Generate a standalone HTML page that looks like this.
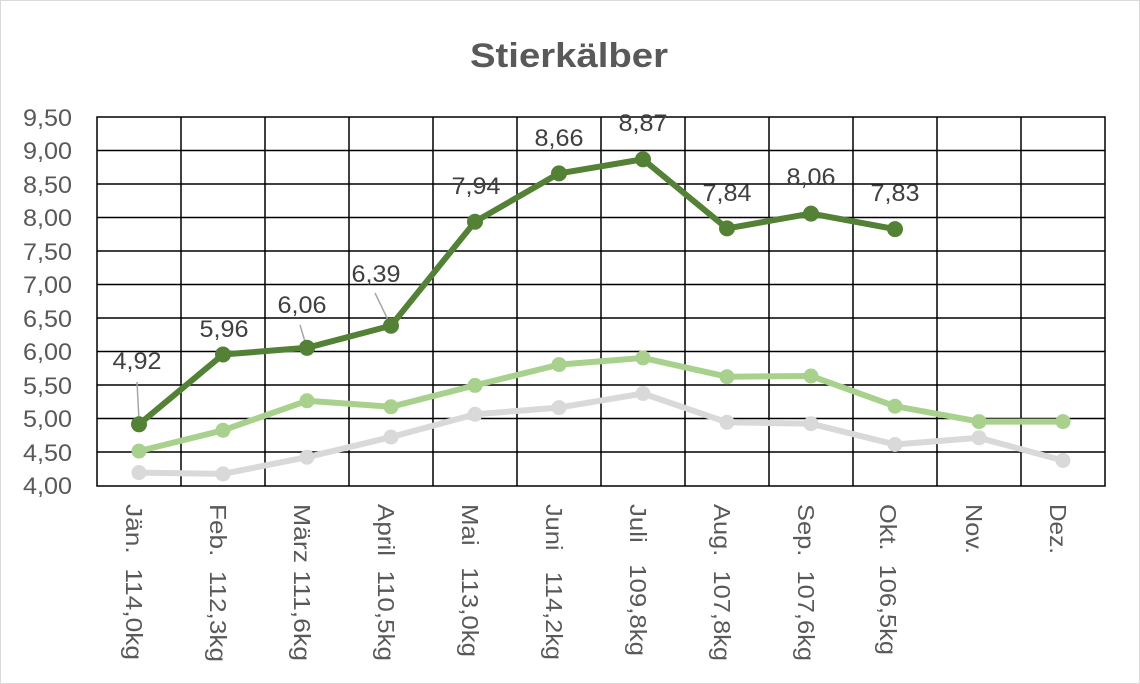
<!DOCTYPE html>
<html><head><meta charset="utf-8"><style>
html,body{margin:0;padding:0;background:#fff;}
svg{display:block;font-family:"Liberation Sans",sans-serif;}
</style></head><body>
<svg width="1140" height="684" viewBox="0 0 1140 684">
<rect x="0.5" y="0.5" width="1139" height="683" fill="#fff" stroke="#d9d9d9"/>
<text x="569" y="67" text-anchor="middle" font-size="34" font-weight="bold" fill="#595959" textLength="198" lengthAdjust="spacingAndGlyphs">Stierkälber</text>
<g stroke="#000" stroke-width="1.5" fill="none">
<rect x="97" y="117" width="1008" height="369"/>
<path d="M97 150.5H1105M97 184H1105M97 217.5H1105M97 251H1105M97 284.5H1105M97 318H1105M97 351.5H1105M97 385H1105M97 418.5H1105M97 452H1105"/>
<path d="M181 117V486M265 117V486M349 117V486M433 117V486M517 117V486M601 117V486M685 117V486M769 117V486M853 117V486M937 117V486M1021 117V486"/>
</g>
<g font-size="24" fill="#595959" text-anchor="end">
<text x="72" y="126" textLength="49" lengthAdjust="spacingAndGlyphs">9,50</text>
<text x="72" y="159" textLength="49" lengthAdjust="spacingAndGlyphs">9,00</text>
<text x="72" y="193" textLength="49" lengthAdjust="spacingAndGlyphs">8,50</text>
<text x="72" y="226" textLength="49" lengthAdjust="spacingAndGlyphs">8,00</text>
<text x="72" y="260" textLength="49" lengthAdjust="spacingAndGlyphs">7,50</text>
<text x="72" y="293" textLength="49" lengthAdjust="spacingAndGlyphs">7,00</text>
<text x="72" y="327" textLength="49" lengthAdjust="spacingAndGlyphs">6,50</text>
<text x="72" y="360" textLength="49" lengthAdjust="spacingAndGlyphs">6,00</text>
<text x="72" y="394" textLength="49" lengthAdjust="spacingAndGlyphs">5,50</text>
<text x="72" y="427" textLength="49" lengthAdjust="spacingAndGlyphs">5,00</text>
<text x="72" y="461" textLength="49" lengthAdjust="spacingAndGlyphs">4,50</text>
<text x="72" y="494" textLength="49" lengthAdjust="spacingAndGlyphs">4,00</text>
</g>
<g font-size="23" fill="#595959">
<text transform="translate(126,504) rotate(90)" textLength="156" lengthAdjust="spacingAndGlyphs" xml:space="preserve">Jän.  114,0kg</text>
<text transform="translate(210,504) rotate(90)" textLength="158" lengthAdjust="spacingAndGlyphs" xml:space="preserve">Feb.  112,3kg</text>
<text transform="translate(294,504) rotate(90)" textLength="157" lengthAdjust="spacingAndGlyphs" xml:space="preserve">März 111,6kg</text>
<text transform="translate(378,504) rotate(90)" textLength="157" lengthAdjust="spacingAndGlyphs" xml:space="preserve">April  110,5kg</text>
<text transform="translate(462,504) rotate(90)" textLength="153" lengthAdjust="spacingAndGlyphs" xml:space="preserve">Mai   113,0kg</text>
<text transform="translate(546,504) rotate(90)" textLength="156" lengthAdjust="spacingAndGlyphs" xml:space="preserve">Juni   114,2kg</text>
<text transform="translate(630,504) rotate(90)" textLength="152" lengthAdjust="spacingAndGlyphs" xml:space="preserve">Juli   109,8kg</text>
<text transform="translate(714,504) rotate(90)" textLength="157" lengthAdjust="spacingAndGlyphs" xml:space="preserve">Aug.  107,8kg</text>
<text transform="translate(798,504) rotate(90)" textLength="157" lengthAdjust="spacingAndGlyphs" xml:space="preserve">Sep.  107,6kg</text>
<text transform="translate(880,504) rotate(90)" textLength="151" lengthAdjust="spacingAndGlyphs" xml:space="preserve">Okt.  106,5kg</text>
<text transform="translate(966,504) rotate(90)" textLength="50" lengthAdjust="spacingAndGlyphs">Nov.</text>
<text transform="translate(1050,504) rotate(90)" textLength="50" lengthAdjust="spacingAndGlyphs">Dez.</text>
</g>
<g fill="#d9d9d9" stroke="#d9d9d9">
<polyline fill="none" stroke-width="6" stroke-linejoin="round" points="139,472.6 223,473.9 307,457.2 391,437.1 475,414.3 559,407.6 643,393.5 727,422.3 811,423.7 895,444.5 979,437.8 1063,460.5"/>
<circle cx="139" cy="472.6" r="7"/><circle cx="223" cy="473.9" r="7"/><circle cx="307" cy="457.2" r="7"/><circle cx="391" cy="437.1" r="7"/><circle cx="475" cy="414.3" r="7"/><circle cx="559" cy="407.6" r="7"/><circle cx="643" cy="393.5" r="7"/><circle cx="727" cy="422.3" r="7"/><circle cx="811" cy="423.7" r="7"/><circle cx="895" cy="444.5" r="7"/><circle cx="979" cy="437.8" r="7"/><circle cx="1063" cy="460.5" r="7"/>
</g>
<g fill="#a9d18e" stroke="#a9d18e">
<polyline fill="none" stroke-width="6" stroke-linejoin="round" points="139,451.1 223,430.3 307,400.8 391,406.8 475,385.4 559,364.6 643,357.9 727,376.7 811,376.0 895,406.2 979,421.6 1063,421.6"/>
<circle cx="139" cy="451.1" r="7"/><circle cx="223" cy="430.3" r="7"/><circle cx="307" cy="400.8" r="7"/><circle cx="391" cy="406.8" r="7"/><circle cx="475" cy="385.4" r="7"/><circle cx="559" cy="364.6" r="7"/><circle cx="643" cy="357.9" r="7"/><circle cx="727" cy="376.7" r="7"/><circle cx="811" cy="376.0" r="7"/><circle cx="895" cy="406.2" r="7"/><circle cx="979" cy="421.6" r="7"/><circle cx="1063" cy="421.6" r="7"/>
</g>
<g stroke="#a6a6a6" stroke-width="1.5">
<line x1="137" y1="382" x2="139" y2="420"/>
<line x1="300" y1="325" x2="306" y2="345"/>
<line x1="375" y1="293" x2="389" y2="322"/>
</g>
<g fill="#538135" stroke="#538135">
<polyline fill="none" stroke-width="6" stroke-linejoin="round" points="139,424.3 223,354.5 307,347.8 391,325.7 475,221.7 559,173.4 643,159.3 727,228.4 811,213.6 895,229.1"/>
<circle cx="139" cy="424.3" r="7.5"/><circle cx="223" cy="354.5" r="7.5"/><circle cx="307" cy="347.8" r="7.5"/><circle cx="391" cy="325.7" r="7.5"/><circle cx="475" cy="221.7" r="7.5"/><circle cx="559" cy="173.4" r="7.5"/><circle cx="643" cy="159.3" r="7.5"/><circle cx="727" cy="228.4" r="7.5"/><circle cx="811" cy="213.6" r="7.5"/><circle cx="895" cy="229.1" r="7.5"/>
</g>
<g font-size="24" fill="#404040" text-anchor="middle">
<text x="137" y="369" textLength="49" lengthAdjust="spacingAndGlyphs">4,92</text>
<text x="224" y="337" textLength="49" lengthAdjust="spacingAndGlyphs">5,96</text>
<text x="302" y="313" textLength="49" lengthAdjust="spacingAndGlyphs">6,06</text>
<text x="376" y="282" textLength="49" lengthAdjust="spacingAndGlyphs">6,39</text>
<text x="476" y="194" textLength="49" lengthAdjust="spacingAndGlyphs">7,94</text>
<text x="559" y="146" textLength="49" lengthAdjust="spacingAndGlyphs">8,66</text>
<text x="643" y="131" textLength="49" lengthAdjust="spacingAndGlyphs">8,87</text>
<text x="727" y="201" textLength="49" lengthAdjust="spacingAndGlyphs">7,84</text>
<text x="811" y="185" textLength="49" lengthAdjust="spacingAndGlyphs">8,06</text>
<text x="895" y="201" textLength="49" lengthAdjust="spacingAndGlyphs">7,83</text>
</g>
</svg>
</body></html>
